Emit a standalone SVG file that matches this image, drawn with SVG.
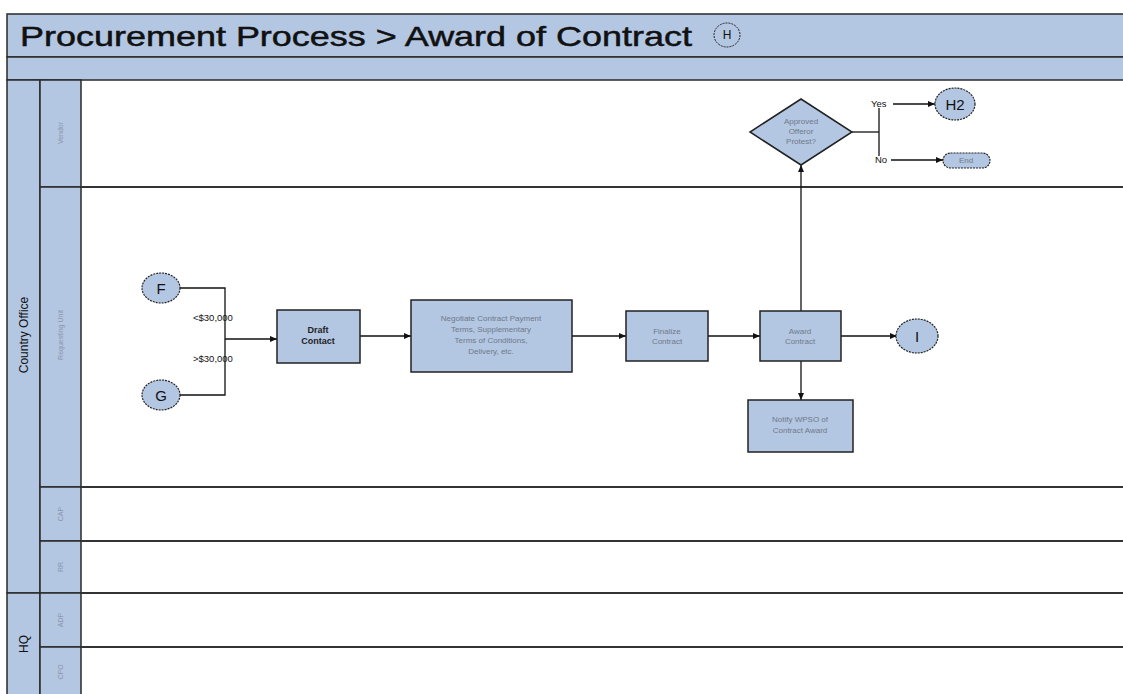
<svg xmlns="http://www.w3.org/2000/svg" width="1123" height="694" viewBox="0 0 1123 694">
  <style>
    .band { fill: #b3c6e2; stroke: #2a2a2a; stroke-width: 1.5; }
    .lane { stroke: #333; stroke-width: 2; fill: none; }
    .box { fill: #b3c6e2; stroke: #222; stroke-width: 1.5; }
    .conn { fill: #b3c6e2; stroke: #222; stroke-width: 1.2; stroke-dasharray: 2 1; }
    .edge { stroke: #111; stroke-width: 1.3; fill: none; }
    .title { font-family: "Liberation Sans", Arial, sans-serif; font-size: 28px; fill: #111; stroke: #111; stroke-width: 0.5; }
    .pool { font-family: "Liberation Sans", Arial, sans-serif; font-size: 12px; fill: #111; }
    .lanelbl { font-family: "Liberation Sans", Arial, sans-serif; font-size: 7px; fill: #8a97aa; }
    .txt { font-family: "Liberation Sans", Arial, sans-serif; font-size: 8px; fill: #6f7a88; text-anchor: middle; }
    .bold { font-family: "Liberation Sans", Arial, sans-serif; font-size: 9px; font-weight: bold; fill: #222; text-anchor: middle; }
    .lbl { font-family: "Liberation Sans", Arial, sans-serif; font-size: 9.5px; fill: #111; }
    .big { font-family: "Liberation Sans", Arial, sans-serif; font-size: 15px; fill: #111; text-anchor: middle; }
  </style>
  <defs>
    <marker id="arrow" markerWidth="8" markerHeight="8" refX="7" refY="4" orient="auto" markerUnits="userSpaceOnUse">
      <path d="M0,1 L7,4 L0,7 Z" fill="#111"/>
    </marker>
  </defs>

  <rect width="1123" height="694" fill="#ffffff"/>

  <!-- header bands -->
  <g id="header">
    <rect class="band" x="7" y="14" width="1130" height="43"/>
    <rect class="band" x="7" y="57" width="1130" height="23"/>
    <text class="title" x="20" y="46" textLength="672" lengthAdjust="spacingAndGlyphs">Procurement Process &gt; Award of Contract</text>
    <ellipse cx="727" cy="35" rx="13" ry="12" fill="none" stroke="#222" stroke-width="1" stroke-dasharray="2 1"/>
    <text x="727" y="39" font-family="Liberation Sans, Arial, sans-serif" font-size="12" text-anchor="middle" fill="#111">H</text>
  </g>

  <!-- pools and lanes -->
  <g id="lanes">
    <rect class="band" x="7" y="80" width="33" height="513"/>
    <rect class="band" x="7" y="593" width="33" height="110"/>
    <rect class="band" x="40" y="80" width="41" height="107"/>
    <rect class="band" x="40" y="187" width="41" height="300"/>
    <rect class="band" x="40" y="487" width="41" height="54"/>
    <rect class="band" x="40" y="541" width="41" height="52"/>
    <rect class="band" x="40" y="593" width="41" height="54"/>
    <rect class="band" x="40" y="647" width="41" height="56"/>
    <line class="lane" x1="81" y1="187" x2="1123" y2="187"/>
    <line class="lane" x1="81" y1="487" x2="1123" y2="487"/>
    <line class="lane" x1="81" y1="541" x2="1123" y2="541"/>
    <line class="lane" x1="81" y1="593" x2="1123" y2="593"/>
    <line class="lane" x1="81" y1="647" x2="1123" y2="647"/>
    <text class="pool" transform="translate(28,335) rotate(-90)" text-anchor="middle">Country Office</text>
    <text class="pool" transform="translate(28,644) rotate(-90)" text-anchor="middle">HQ</text>
    <text class="lanelbl" transform="translate(63,133) rotate(-90)" text-anchor="middle">Vendor</text>
    <text class="lanelbl" transform="translate(63,335) rotate(-90)" text-anchor="middle">Requesting Unit</text>
    <text class="lanelbl" transform="translate(63,514) rotate(-90)" text-anchor="middle">CAP</text>
    <text class="lanelbl" transform="translate(63,567) rotate(-90)" text-anchor="middle">RR</text>
    <text class="lanelbl" transform="translate(63,620) rotate(-90)" text-anchor="middle">ADP</text>
    <text class="lanelbl" transform="translate(63,672) rotate(-90)" text-anchor="middle">CPO</text>
  </g>

  <!-- connectors -->
  <g id="connectors">
    <polyline class="edge" points="180,288 225,288 225,395 180,395"/>
    <line class="edge" x1="225" y1="339" x2="277" y2="339" marker-end="url(#arrow)"/>
    <line class="edge" x1="360" y1="336" x2="411" y2="336" marker-end="url(#arrow)"/>
    <line class="edge" x1="572" y1="336" x2="626" y2="336" marker-end="url(#arrow)"/>
    <line class="edge" x1="708" y1="336" x2="760" y2="336" marker-end="url(#arrow)"/>
    <line class="edge" x1="841" y1="336" x2="897" y2="336" marker-end="url(#arrow)"/>
    <line class="edge" x1="801" y1="361" x2="801" y2="400" marker-end="url(#arrow)"/>
    <line class="edge" x1="801" y1="311" x2="801" y2="165" marker-end="url(#arrow)"/>
    <line class="edge" x1="852" y1="132" x2="879" y2="132"/>
    <line class="edge" x1="879" y1="108" x2="879" y2="156"/>
    <line class="edge" x1="893" y1="104" x2="935" y2="104" marker-end="url(#arrow)"/>
    <line class="edge" x1="891" y1="160" x2="943" y2="160" marker-end="url(#arrow)"/>
    <text class="lbl" x="193" y="321">&lt;$30,000</text>
    <text class="lbl" x="193" y="362">&gt;$30,000</text>
    <text class="lbl" x="871" y="107">Yes</text>
    <text class="lbl" x="875" y="163">No</text>
  </g>

  <!-- nodes -->
  <g id="node-F">
    <ellipse class="conn" cx="161" cy="288" rx="19" ry="15"/>
    <text class="big" x="161" y="294">F</text>
  </g>
  <g id="node-G">
    <ellipse class="conn" cx="161" cy="395" rx="19" ry="15"/>
    <text class="big" x="161" y="401">G</text>
  </g>
  <g id="node-draft">
    <rect class="box" x="277" y="310" width="83" height="53"/>
    <text class="bold" x="318" y="333">Draft</text>
    <text class="bold" x="318" y="344">Contact</text>
  </g>
  <g id="node-negotiate">
    <rect class="box" x="411" y="300" width="161" height="72"/>
    <text class="txt" x="491" y="321">Negotiate Contract Payment</text>
    <text class="txt" x="491" y="332">Terms, Supplementary</text>
    <text class="txt" x="491" y="343">Terms of Conditions,</text>
    <text class="txt" x="491" y="354">Delivery, etc.</text>
  </g>
  <g id="node-finalize">
    <rect class="box" x="626" y="311" width="82" height="50"/>
    <text class="txt" x="667" y="334">Finalize</text>
    <text class="txt" x="667" y="344">Contract</text>
  </g>
  <g id="node-award">
    <rect class="box" x="760" y="311" width="81" height="50"/>
    <text class="txt" x="800" y="334">Award</text>
    <text class="txt" x="800" y="344">Contract</text>
  </g>
  <g id="node-I">
    <ellipse class="conn" cx="917" cy="336" rx="21" ry="17"/>
    <text class="big" x="917" y="342">I</text>
  </g>
  <g id="node-notify">
    <rect class="box" x="748" y="400" width="105" height="52"/>
    <text class="txt" x="800" y="422">Notify WPSO of</text>
    <text class="txt" x="800" y="433">Contract Award</text>
  </g>
  <g id="node-protest">
    <polygon class="box" points="801,99 852,132 801,165 750,132"/>
    <text class="txt" x="801" y="124">Approved</text>
    <text class="txt" x="801" y="134">Offeror</text>
    <text class="txt" x="801" y="144">Protest?</text>
  </g>
  <g id="node-H2">
    <ellipse class="conn" cx="955" cy="104" rx="20" ry="16"/>
    <text class="big" x="955" y="110">H2</text>
  </g>
  <g id="node-end">
    <rect class="conn" x="943" y="153" width="47" height="15" rx="7.5"/>
    <text class="txt" x="966" y="163">End</text>
  </g>
</svg>
